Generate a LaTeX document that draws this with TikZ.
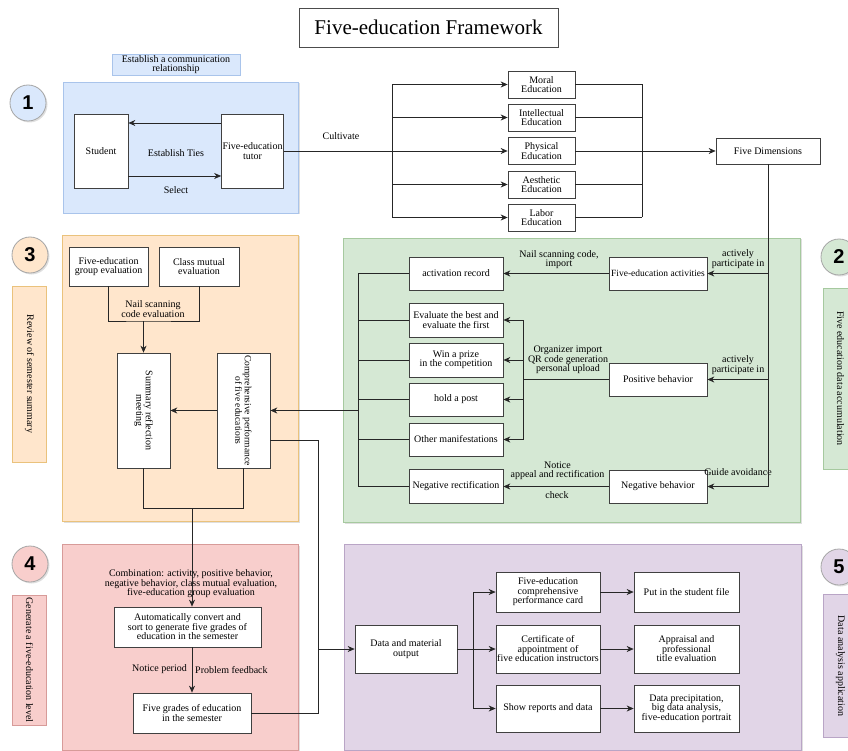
\documentclass[tikz,border=0pt]{standalone}
\usepackage{fontspec}
\setmainfont{Liberation Serif}
\newfontfamily\badgefont{Liberation Sans}
\usetikzlibrary{positioning, arrows.meta, shadows}
\tikzset{>={Stealth[length=7pt,width=6pt]}}
\usepackage{xcolor}
\definecolor{blueFill}{HTML}{DAE8FC}
\definecolor{blueLine}{HTML}{A9C4EB}
\definecolor{orangeFill}{HTML}{FFE6CC}
\definecolor{orangeLine}{HTML}{EAC27C}
\definecolor{greenFill}{HTML}{D5E8D4}
\definecolor{greenLine}{HTML}{A6C99F}
\definecolor{redFill}{HTML}{F8CECC}
\definecolor{redLine}{HTML}{D79B99}
\definecolor{purpleFill}{HTML}{E1D5E7}
\definecolor{purpleLine}{HTML}{B9A5C6}

\begin{document}
\begin{tikzpicture}[x=1pt, y=-1pt,
                    every node/.style={font=\fontsize{10}{9.5}\selectfont},
                    box/.style={draw=black!75, fill=white, align=center, inner sep=1pt, line width=0.7pt},
                    tag/.style={align=center, inner sep=0pt},
                    link/.style={black!85, line width=0.7pt},
                    region/.style={line width=0.8pt, drop shadow={shadow xshift=1.5pt, shadow yshift=-1.5pt, opacity=0.25}},
                    badge/.style={circle, draw=black!35, line width=0.8pt, minimum size=36pt, inner sep=0pt,
                                  font=\badgefont\fontsize{20}{20}\selectfont\bfseries,
                                  drop shadow={shadow xshift=1.5pt, shadow yshift=-1.5pt, opacity=0.25}},
                    sidelabel/.style={rotate=-90, line width=0.8pt, inner sep=1pt, minimum height=34}]
  \useasboundingbox (0,0) rectangle (848,751);
  \clip (0,0) rectangle (848,751);

  % title
  \node[draw=black!70, line width=0.8pt, minimum width=259, minimum height=39,
        font=\fontsize{21}{21}\selectfont] (title) at (428.5,27.5) {Five-education Framework};

  % background regions
  \filldraw[region, fill=blueFill, draw=blueLine] (63,82) rectangle (298,213);
  \filldraw[region, fill=orangeFill, draw=orangeLine] (62,235) rectangle (298,521);
  \filldraw[region, fill=greenFill, draw=greenLine] (343,238) rectangle (800,522);
  \filldraw[region, fill=redFill, draw=redLine] (62,544) rectangle (298,750);
  \filldraw[region, fill=purpleFill, draw=purpleLine] (344,544) rectangle (801,750);

  % step badges
  \node[badge, fill=blueFill] (b1) at (28,103) {1};
  \node[badge, fill=greenFill] (b2) at (839,257) {2};
  \node[badge, fill=orangeFill] (b3) at (30,255) {3};
  \node[badge, fill=redFill] (b4) at (30,564) {4};
  \node[badge, fill=purpleFill] (b5) at (839,567) {5};

  % side captions
  \node[draw=blueLine, fill=blueFill, line width=0.8pt, align=center, inner sep=1pt,
        minimum width=128, minimum height=21, font=\fontsize{10}{8.5}\selectfont] (commlabel) at (176,64.5)
        {Establish a communication\\relationship};
  \node[sidelabel, draw=orangeLine, fill=orangeFill, minimum width=176] (reviewlabel) at (29.5,374)
        {Review of semester summary};
  \node[sidelabel, draw=redLine, fill=redFill, minimum width=130] (genlabel) at (29.5,660)
        {Generate a five-education level};
  \node[sidelabel, draw=greenLine, fill=greenFill, minimum width=181] (accumlabel) at (840.5,378.5)
        {Five education data accumulation};
  \node[sidelabel, draw=purpleLine, fill=purpleFill, minimum width=143] (analysislabel) at (840.5,666)
        {Data analysis application};

  % 1: communication
  \node[box, minimum width=54, minimum height=74] (student) at (101,151) {Student};
  \node[box, minimum width=61, minimum height=74] (tutor) at (252.5,151) {Five-education\\tutor};
  \node[tag] (ties) at (176,153) {Establish Ties};
  \node[tag] (select) at (176,190) {Select};
  \node[tag] (cultivate) at (341,136) {Cultivate};

  \node[box, minimum width=67, minimum height=27] (moral) at (541.5,84.5) {Moral\\Education};
  \node[box, minimum width=67, minimum height=27] (intel) at (541.5,117.5) {Intellectual\\Education};
  \node[box, minimum width=67, minimum height=27] (phys) at (541.5,151) {Physical\\Education};
  \node[box, minimum width=67, minimum height=27] (aest) at (541.5,184.5) {Aesthetic\\Education};
  \node[box, minimum width=67, minimum height=27] (labor) at (541.5,217.5) {Labor\\Education};
  \node[box, minimum width=104, minimum height=26] (fivedim) at (768,151) {Five Dimensions};

  % 2: data accumulation
  \node[box, minimum width=98, minimum height=33, font=\fontsize{9.5}{9}\selectfont] (activities) at (658,273.5)
        {Five-education activities};
  \node[box, minimum width=98, minimum height=33] (positive) at (658,379.5) {Positive behavior};
  \node[box, minimum width=98, minimum height=33] (negative) at (658,486.5) {Negative behavior};

  \node[box, minimum width=94, minimum height=33] (record) at (456,273.5) {activation record};
  \node[box, minimum width=94, minimum height=34] (best) at (456,320) {Evaluate the best and\\evaluate the first};
  \node[box, minimum width=94, minimum height=34] (prize) at (456,360) {Win a prize\\in the competition};
  \node[box, minimum width=94, minimum height=33] (post) at (456,399.5) {hold a post};
  \node[box, minimum width=94, minimum height=33] (other) at (456,439.5) {Other manifestations};
  \node[box, minimum width=94, minimum height=34] (rectif) at (456,486.5) {Negative rectification};

  \node[tag] (participateA) at (738,259) {actively\\participate in};
  \node[tag] (participateB) at (738,365) {actively\\participate in};
  \node[tag] (guide) at (738,472) {Guide avoidance};
  \node[tag] (nailimport) at (559,259.5) {Nail scanning code,\\import};
  \node[tag] (organizer) at (568,360) {Organizer import\\QR code generation\\personal upload};
  \node[tag] (notice) at (557.5,471) {Notice\\appeal and rectification};
  \node[tag] (check) at (557,495) {check};

  % 3: semester summary
  \node[box, minimum width=79, minimum height=39] (groupeval) at (108.5,266.5) {Five-education\\group evaluation};
  \node[box, minimum width=80, minimum height=39] (classeval) at (199,266.5) {Class mutual\\evaluation};
  \node[tag] (naileval) at (153,309) {Nail scanning\\code evaluation};
  \node[box, minimum width=53, minimum height=115] (summary) at (143.5,410.5)
        {\rotatebox{-90}{\parbox{105pt}{\centering Summary reflection\\meeting}}};
  \node[box, minimum width=53, minimum height=115] (compre) at (243.5,410.5)
        {\rotatebox{-90}{\parbox{110pt}{\centering\fontsize{9.5}{9.5}\selectfont Comprehensive performance\\of five educations}}};

  % 4: five-education level
  \node[tag] (combination) at (191,584)
        {Combination: activity, positive behavior,\\negative behavior, class mutual evaluation,\\five-education group evaluation};
  \node[box, minimum width=147, minimum height=40] (convert) at (187.5,627)
        {Automatically convert and\\sort to generate five grades of\\education in the semester};
  \node[tag, anchor=east] (period) at (187,669) {Notice period};
  \node[tag, anchor=west] (feedback) at (195,670) {Problem feedback};
  \node[box, minimum width=118, minimum height=40] (grades) at (192,713)
        {Five grades of education\\in the semester};

  % 5: data analysis
  \node[box, minimum width=102, minimum height=48] (dataout) at (406,649) {Data and material\\output};
  \node[box, minimum width=104, minimum height=40] (card) at (548,592)
        {Five-education\\comprehensive\\performance card};
  \node[box, minimum width=104, minimum height=48] (cert) at (548,649)
        {Certificate of\\appointment of\\five education instructors};
  \node[box, minimum width=104, minimum height=47] (reports) at (548,708.5) {Show reports and data};
  \node[box, minimum width=105, minimum height=40] (stufile) at (686.5,592) {Put in the student file};
  \node[box, minimum width=105, minimum height=48] (appraisal) at (686.5,649)
        {Appraisal and\\professional\\title evaluation};
  \node[box, minimum width=105, minimum height=47] (portrait) at (686.5,708.5)
        {Data precipitation,\\big data analysis,\\five-education portrait};

  % connectors 1
  \draw[link,->] (tutor.west |- 0,123) -- (student.east |- 0,123);
  \draw[link,->] (student.east |- 0,176) -- (tutor.west |- 0,176);
  \coordinate (bus1) at (392,151);
  \draw[link] (tutor.east) -- (bus1);
  \draw[link] (bus1 |- moral.west) -- (bus1 |- labor.west);
  \foreach \n in {moral,intel,phys,aest,labor}
    \draw[link,->] (bus1 |- \n.west) -- (\n.west);
  \coordinate (bus2) at (642,151);
  \foreach \n in {moral,intel,phys,aest,labor}
    \draw[link] (\n.east) -- (bus2 |- \n.east);
  \draw[link] (bus2 |- moral.east) -- (bus2 |- labor.east);
  \draw[link,->] (bus2) -- (fivedim.west);

  % connectors 2
  \draw[link] (fivedim.south) -- (fivedim.south |- negative.east);
  \foreach \n in {activities,positive,negative}
    \draw[link,->] (fivedim.south |- \n.east) -- (\n.east);
  \draw[link,->] (activities.west) -- (record.east);
  \coordinate (fork) at (523,379.5);
  \draw[link] (positive.west) -- (fork);
  \draw[link] (fork |- best.east) -- (fork |- other.east);
  \foreach \n in {best,prize,post,other}
    \draw[link,->] (fork |- \n.east) -- (\n.east);
  \draw[link,->] (negative.west) -- (rectif.east);
  \coordinate (collect) at (358,410.5);
  \foreach \n in {record,best,prize,post,other,rectif}
    \draw[link] (\n.west) -- (collect |- \n.west);
  \draw[link] (collect |- record.west) -- (collect |- rectif.west);
  \draw[link,->] (collect) -- (compre.east);

  % connectors 3
  \coordinate (merge) at (143.5,321);
  \draw[link] (groupeval.south) |- (merge) -| (classeval.south);
  \draw[link,->] (merge) -- (summary.north);
  \draw[link,->] (compre.west) -- (summary.east);
  \coordinate (join) at (192,508);
  \draw[link] (summary.south) |- (join);
  \draw[link] (compre.south) |- (join);
  \draw[link,->] (join) -- (join |- convert.north);

  % connectors 4
  \draw[link,->] (join |- convert.south) -- (grades.north);
  \coordinate (out) at (318,649);
  \draw[link] (compre.east |- 0,440) -| (out);
  \draw[link] (grades.east) -| (out);
  \draw[link,->] (out) -- (dataout.west);

  % connectors 5
  \coordinate (spread) at (473,649);
  \draw[link] (dataout.east) -- (spread);
  \draw[link] (spread |- card.west) -- (spread |- reports.west);
  \foreach \n in {card,cert,reports}
    \draw[link,->] (spread |- \n.west) -- (\n.west);
  \draw[link,->] (card.east) -- (stufile.west);
  \draw[link,->] (cert.east) -- (appraisal.west);
  \draw[link,->] (reports.east) -- (portrait.west);
\end{tikzpicture}
\end{document}
